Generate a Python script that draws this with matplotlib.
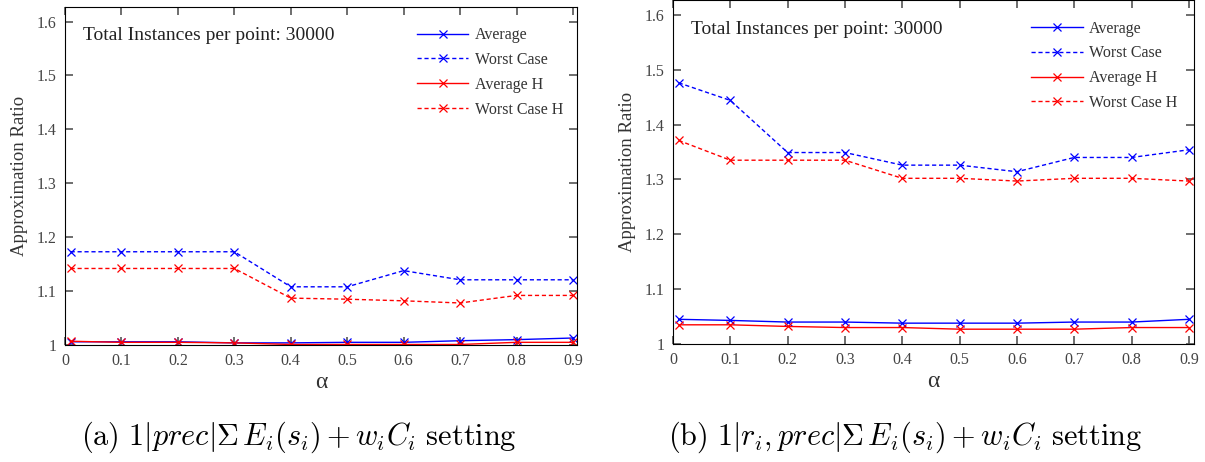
import numpy as np
import matplotlib
matplotlib.use('Agg')
import matplotlib.pyplot as plt
from matplotlib.ticker import FuncFormatter

plt.rcParams['font.family'] = ['Liberation Serif', 'DejaVu Serif']
plt.rcParams['mathtext.fontset'] = 'cm'

alpha_vals = [0.01, 0.1, 0.2, 0.3, 0.4, 0.5, 0.6, 0.7, 0.8, 0.9]
xtick_vals = [0, 0.1, 0.2, 0.3, 0.4, 0.5, 0.6, 0.7, 0.8, 0.9]
ytick_vals = [1, 1.1, 1.2, 1.3, 1.4, 1.5, 1.6]

# panel (a): 1|prec| sum E_i(s_i) + w_i C_i
a_avg = [1.006, 1.006, 1.006, 1.004, 1.004, 1.005, 1.005, 1.008, 1.010, 1.013]
a_worst = [1.173, 1.173, 1.173, 1.173, 1.108, 1.108, 1.138, 1.121, 1.121, 1.121]
a_avg_h = [1.007, 1.005, 1.005, 1.004, 1.001, 1.001, 1.001, 1.001, 1.005, 1.005]
a_worst_h = [1.142, 1.142, 1.142, 1.142, 1.087, 1.085, 1.082, 1.078, 1.092, 1.092]

# panel (b): 1|r_i,prec| sum E_i(s_i) + w_i C_i
b_avg = [1.045, 1.043, 1.040, 1.040, 1.038, 1.038, 1.038, 1.040, 1.040, 1.045]
b_worst = [1.476, 1.444, 1.349, 1.349, 1.326, 1.326, 1.314, 1.340, 1.340, 1.354]
b_avg_h = [1.035, 1.035, 1.032, 1.030, 1.030, 1.027, 1.027, 1.027, 1.030, 1.030]
b_worst_h = [1.371, 1.335, 1.335, 1.335, 1.302, 1.302, 1.297, 1.302, 1.302, 1.297]

captions = [r'$\mathrm{(a)}\ 1|prec|\Sigma\, E_i(s_i)+w_iC_i\ \mathrm{setting}$',
            r'$\mathrm{(b)}\ 1|r_i,prec|\Sigma\, E_i(s_i)+w_iC_i\ \mathrm{setting}$']

fig = plt.figure(figsize=(12.05, 4.62), dpi=100)
ax1 = fig.add_axes([0.0539, 0.2532, 0.4249, 0.7316])
ax2 = fig.add_axes([0.5585, 0.2554, 0.4324, 0.7446])

dash = (0, (3, 2))
fmt = FuncFormatter(lambda v, p: '%g' % round(v, 2))

def draw(ax, avg, worst, avg_h, worst_h, xmax):
    ax.plot(alpha_vals, avg, color='blue', lw=1, marker='x', ms=6, mew=0.9, label='Average')
    ax.plot(alpha_vals, worst, color='blue', lw=1, ls=dash, marker='x', ms=6, mew=0.9, label='Worst Case')
    ax.plot(alpha_vals, avg_h, color='red', lw=1, marker='x', ms=6, mew=0.9, label='Average H')
    ax.plot(alpha_vals, worst_h, color='red', lw=1, ls=dash, marker='x', ms=6, mew=0.9, label='Worst Case H')
    ax.set_xlim(0, xmax)
    ax.set_ylim(1, 1.627)
    ax.set_xticks(xtick_vals)
    ax.set_yticks(ytick_vals)
    ax.xaxis.set_major_formatter(fmt)
    ax.yaxis.set_major_formatter(fmt)
    ax.tick_params(axis='both', direction='in', top=True, right=True, length=6,
                   width=1.2, color='#555555', labelsize=11.5, labelcolor='#444444', pad=6)
    ax.set_xlabel('α', fontsize=17, color='#333333', labelpad=2)
    ax.set_ylabel('Approximation Ratio', fontsize=13.5, color='#333333', labelpad=6)
    ax.text(0.035, 0.915, 'Total Instances per point: 30000', transform=ax.transAxes,
            fontsize=14, color='#222222', va='center')
    leg = ax.legend(loc='upper left', bbox_to_anchor=(0.688, 0.94), frameon=False,
                    fontsize=11.5, handlelength=3.2, labelspacing=0.55, handletextpad=0.4,
                    borderaxespad=0, borderpad=0)
    for t in leg.get_texts():
        t.set_color('#333333')

draw(ax1, a_avg, a_worst, a_avg_h, a_worst_h, 0.907)
draw(ax2, b_avg, b_worst, b_avg_h, b_worst_h, 0.909)

fig.text(0.2477, 0.054, captions[0], fontsize=21.8, ha='center', va='center')
fig.text(0.751, 0.054, captions[1], fontsize=21.8, ha='center', va='center')

fig.savefig('out.png', dpi=100)
